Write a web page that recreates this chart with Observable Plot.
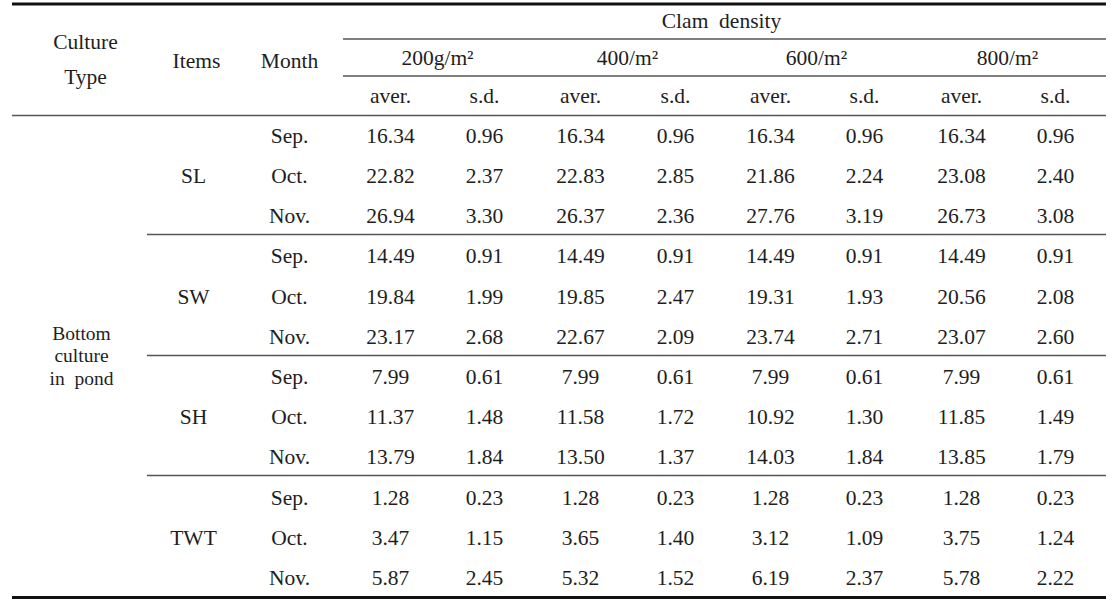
<!DOCTYPE html>
<html>
<head>
<meta charset="utf-8">
<script src="https://cdn.jsdelivr.net/npm/d3@7"></script>
<script src="https://cdn.jsdelivr.net/npm/@observablehq/plot@0.6"></script>
<style>
  html, body { margin: 0; padding: 0; background: #fff; }
  svg { display: block; }
  svg text { font-family: "Liberation Serif", "Times New Roman", serif !important; }
</style>
</head>
<body>
<div id="chart"></div>
<script>
// ---- data ----
const densities = ["200g/m²", "400/m²", "600/m²", "800/m²"];
const items = ["SL", "SW", "SH", "TWT"];
const months = ["Sep.", "Oct.", "Nov."];
const statLabels = ["aver.", "s.d."];
const aver200 = [16.34, 22.82, 26.94, 14.49, 19.84, 23.17, 7.99, 11.37, 13.79, 1.28, 3.47, 5.87];
const sd200   = [0.96, 2.37, 3.30, 0.91, 1.99, 2.68, 0.61, 1.48, 1.84, 0.23, 1.15, 2.45];
const aver400 = [16.34, 22.83, 26.37, 14.49, 19.85, 22.67, 7.99, 11.58, 13.50, 1.28, 3.65, 5.32];
const sd400   = [0.96, 2.85, 2.36, 0.91, 2.47, 2.09, 0.61, 1.72, 1.37, 0.23, 1.40, 1.52];
const aver600 = [16.34, 21.86, 27.76, 14.49, 19.31, 23.74, 7.99, 10.92, 14.03, 1.28, 3.12, 6.19];
const sd600   = [0.96, 2.24, 3.19, 0.91, 1.93, 2.71, 0.61, 1.30, 1.84, 0.23, 1.09, 2.37];
const aver800 = [16.34, 23.08, 26.73, 14.49, 20.56, 23.07, 7.99, 11.85, 13.85, 1.28, 3.75, 5.78];
const sd800   = [0.96, 2.40, 3.08, 0.91, 2.08, 2.60, 0.61, 1.49, 1.79, 0.23, 1.24, 2.22];

// ---- layout (kept separate from data) ----
const W = 1118, H = 607;
const colX = { culture: 85, items: 193, month: 289 };
const statX = [390, 484, 580, 675, 770, 864, 961, 1055];
const densX = [437, 627, 816, 1007];
const rowY0 = 135.5, rowStep = 40.2;
const rowY = i => rowY0 + i * rowStep;
const font = "'Liberation Serif', 'Times New Roman', serif";
const ink = "#1e1e1e";

const series = [aver200, sd200, aver400, sd400, aver600, sd600, aver800, sd800];
const cells = [];
series.forEach((arr, c) => arr.forEach((v, r) => cells.push({x: statX[c], y: rowY(r), t: v.toFixed(2)})));

const monthCells = [];
for (let r = 0; r < 12; r++) monthCells.push({x: colX.month, y: rowY(r), t: months[r % 3]});
const itemCells = items.map((t, g) => ({x: colX.items, y: rowY(g * 3 + 1), t}));
const statCells = statX.map((x, i) => ({x, y: 96, t: statLabels[i % 2]}));
const densCells = densities.map((t, i) => ({x: densX[i], y: 58, t}));
const headCells = [
  {x: colX.culture, y: 42, t: "Culture"},
  {x: colX.culture, y: 77, t: "Type"},
  {x: 196, y: 61, t: "Items"},
  {x: colX.month, y: 61, t: "Month"},
  {x: 721, y: 21, t: "Clam  density"}
];
const groupCell = [{x: 81, y: 354.5, t: "Bottom\nculture\nin  pond"}];

const thick = [{y: 3.5}, {y: 597}];
const thin = [
  {y: 38.5, x1: 343, x2: 1106},
  {y: 75.5, x1: 343, x2: 1106},
  {y: 115, x1: 12, x2: 1106},
  {y: 234, x1: 147, x2: 1106},
  {y: 355, x1: 147, x2: 1106},
  {y: 475, x1: 147, x2: 1106}
];

const textOpts = () => ({x: "x", y: "y", text: "t", fontFamily: font, fontSize: 21.5, fill: ink, textAnchor: "middle", lineAnchor: "middle"});

const chart = Plot.plot({
  width: W, height: H,
  margin: 0,
  style: {fontFamily: font},
  x: {domain: [0, W], range: [0, W], axis: null},
  y: {domain: [0, H], range: [0, H], axis: null},
  marks: [
    Plot.ruleY(thick, {y: "y", x1: 12, x2: 1106, stroke: "#111", strokeWidth: 3}),
    Plot.ruleY(thin, {y: "y", x1: "x1", x2: "x2", stroke: "#555", strokeWidth: 1.4}),
    Plot.text(headCells, textOpts()),
    Plot.text(groupCell, {...textOpts(), fontSize: 19.5, lineHeight: 1.16}),
    Plot.text(densCells, textOpts()),
    Plot.text(statCells, textOpts()),
    Plot.text(itemCells, textOpts()),
    Plot.text(monthCells, textOpts()),
    Plot.text(cells, textOpts())
  ]
});
document.getElementById("chart").appendChild(chart);
</script>
</body>
</html>
